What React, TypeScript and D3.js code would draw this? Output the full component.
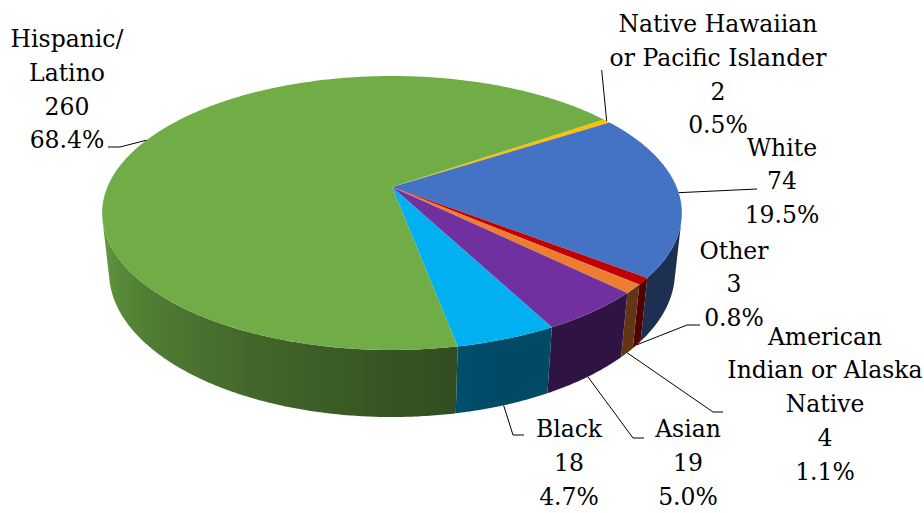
import React from "react";
import * as d3 from "d3";

// ---- data ----
const categories = [
  "Native Hawaiian or Pacific Islander",
  "White",
  "Other",
  "American Indian or Alaska Native",
  "Asian",
  "Black",
  "Hispanic/Latino",
];
const values = [2, 74, 3, 4, 19, 18, 260];
const labelLines = [
  ["Native Hawaiian", "or Pacific Islander"],
  ["White"],
  ["Other"],
  ["American", "Indian or Alaska", "Native"],
  ["Asian"],
  ["Black"],
  ["Hispanic/", "Latino"],
];
const colors = ["#FFC000", "#4472C4", "#C00000", "#ED7D31", "#7030A0", "#00B0F0", "#70AD47"];

// ---- layout ----
const W = 924;
const H = 513;
const CX = 392;
const CY = 187;
const FOCAL = 1329;
const DIST = 4.67;
const SIN = 0.464;
const COS = 0.886;
const THICK = 0.237;
const START_DEG = 55.5;
const VIS_LO = 104;
const VIS_HI = 256;
const FONT = "DejaVu Serif";
const FONT_SIZE = 23.5;
const LINE_H = 33.8;

const labelLayout = [
  { cx: 718, y: 32, leader: [[601.7, 70]], bottom: false },
  { cx: 782, y: 155.5, leader: [[757, 189]], bottom: false },
  { cx: 734, y: 258.5, leader: [[700, 325], [687, 325]], bottom: true },
  { cx: 825, y: 344.5, leader: [[723, 412], [713, 412]], bottom: true },
  { cx: 688, y: 437, leader: [[644, 438], [633, 438]], bottom: true },
  { cx: 569, y: 437, leader: [[524, 435], [513, 435]], bottom: true },
  { cx: 67, y: 47, leader: [[108, 147], [120, 147]], bottom: false },
];

function project(alphaDeg: number, depth: number): [number, number] {
  const a = (alphaDeg * Math.PI) / 180;
  const x = Math.sin(a);
  const z = -Math.cos(a);
  const y = -depth;
  const Y = -y * COS + z * SIN;
  const D = DIST - (y * SIN + z * COS);
  return [CX + (x * FOCAL) / D, CY + (Y * FOCAL) / D];
}

function arcPoints(a0: number, a1: number, depth: number): [number, number][] {
  const n = Math.max(2, Math.ceil(Math.abs(a1 - a0) / 0.5));
  const pts: [number, number][] = [];
  for (let i = 0; i <= n; i++) pts.push(project(a0 + ((a1 - a0) * i) / n, depth));
  return pts;
}

function shade(alpha: number): number {
  let a = ((alpha % 360) + 360) % 360;
  const t = Math.min(1, Math.max(0, (a - 160) / 96));
  return 0.42 + 0.45 * Math.pow(t, 1.2);
}

function darken(color: string, k: number): string {
  const c = d3.rgb(color);
  return d3.rgb(c.r * k, c.g * k, c.b * k).formatHex();
}

export default function App() {
  const total = d3.sum(values);
  const pie = d3
    .pie<number>()
    .sort(null)
    .startAngle((START_DEG * Math.PI) / 180)
    .endAngle((START_DEG * Math.PI) / 180 + 2 * Math.PI);
  const arcs = pie(values);
  const toDeg = (r: number) => (r * 180) / Math.PI;
  const line = d3.line();

  const walls: any[] = [];
  const gradients: any[] = [];
  arcs.forEach((arc, i) => {
    const a0 = toDeg(arc.startAngle);
    const a1 = toDeg(arc.endAngle);
    for (let k = -1; k <= 1; k++) {
      const lo = Math.max(a0, VIS_LO + 360 * k);
      const hi = Math.min(a1, VIS_HI + 360 * k);
      if (hi <= lo) continue;
      const top = arcPoints(lo, hi, 0);
      const bot = arcPoints(hi, lo, THICK);
      const d = line([...top, ...bot])! + "Z";
      const id = `wall-${i}-${k + 1}`;
      const xAt = (a: number) => (project(a, 0)[0] + project(a, THICK)[0]) / 2;
      const x1 = xAt(lo);
      const x2 = xAt(hi);
      const stops = [];
      const ns = 12;
      for (let s = 0; s <= ns; s++) {
        const a = lo + ((hi - lo) * s) / ns;
        const off = Math.abs(x2 - x1) < 0.01 ? 0 : (xAt(a) - x1) / (x2 - x1);
        stops.push({ off: Math.min(1, Math.max(0, off)), color: darken(colors[i], shade(a)) });
      }
      gradients.push(
        <linearGradient key={id} id={id} gradientUnits="userSpaceOnUse" x1={x1} y1={0} x2={x2} y2={0}>
          {stops.map((s, j) => (
            <stop key={j} offset={s.off} stopColor={s.color} />
          ))}
        </linearGradient>
      );
      walls.push(<path key={id} d={d} fill={`url(#${id})`} />);
    }
  });

  const tops = arcs.map((arc, i) => {
    const pts = [[CX, CY] as [number, number], ...arcPoints(toDeg(arc.startAngle), toDeg(arc.endAngle), 0)];
    return <path key={`top-${i}`} d={line(pts)! + "Z"} fill={colors[i]} />;
  });

  const labels = arcs.map((arc, i) => {
    const L = labelLayout[i];
    const mid = toDeg((arc.startAngle + arc.endAngle) / 2);
    const edge = project(mid, L.bottom ? THICK : 0);
    const pts = [...(L.leader as [number, number][]), edge];
    const lines = [...labelLines[i], String(values[i]), ((values[i] / total) * 100).toFixed(1) + "%"];
    return (
      <g key={`lab-${i}`} data-category={categories[i]}>
        <path d={line(pts)!} fill="none" stroke="#000" strokeWidth={1} />
        {lines.map((t, j) => (
          <text
            key={j}
            x={L.cx}
            y={L.y + j * LINE_H}
            textAnchor="middle"
            style={{ fontFamily: FONT, fontSize: FONT_SIZE }}
          >
            {t}
          </text>
        ))}
      </g>
    );
  });

  return (
    <svg
      width={W}
      height={H}
      viewBox={`0 0 ${W} ${H}`}
      style={{ position: "absolute", left: 0, top: 0, background: "#fff" }}
    >
      <defs>{gradients}</defs>
      <rect x={0} y={0} width={W} height={H} fill="#fff" />
      {walls}
      {tops}
      {labels}
    </svg>
  );
}
